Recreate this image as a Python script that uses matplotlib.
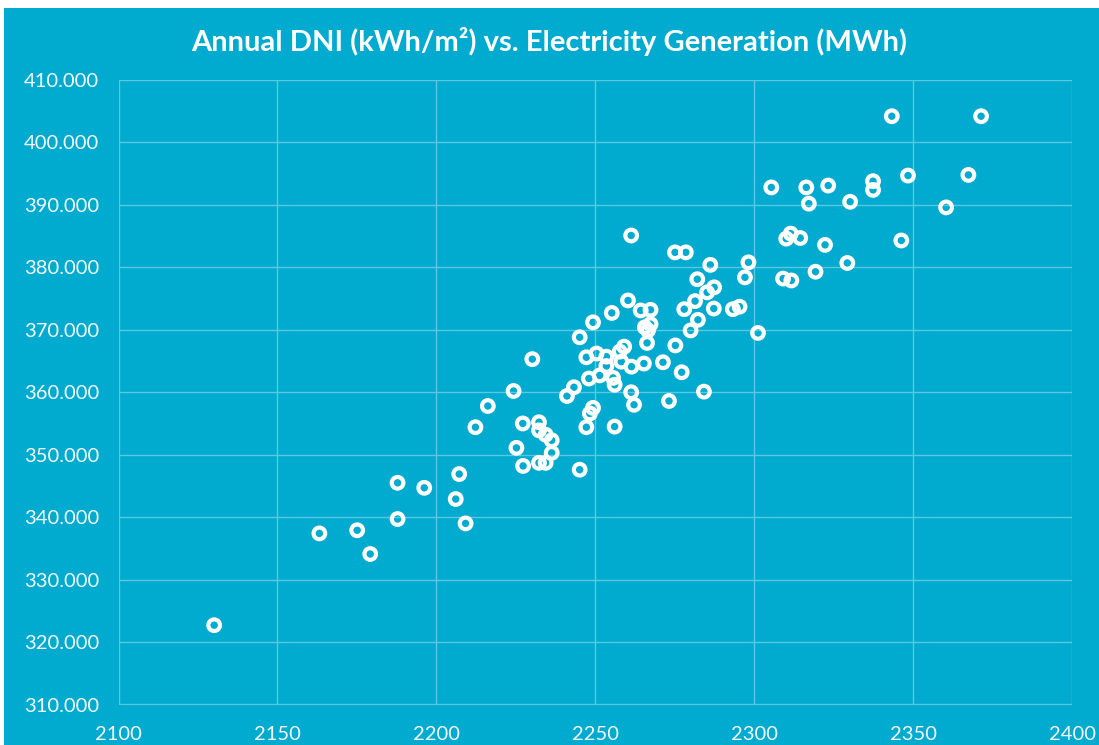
import matplotlib.pyplot as plt
from matplotlib.patches import Rectangle

# Annual DNI (kWh/m2) vs electricity generation (MWh)
dni = [2130.1, 2163.2, 2175.1, 2179.2, 2187.8, 2187.8, 2196.2, 2206.1, 2207.2, 2209.2,
       2212.3, 2216.2, 2224.3, 2225.2, 2227.2, 2227.3, 2230.2, 2232.3, 2232.3, 2232.3,
       2234.4, 2234.4, 2236.3, 2236.3, 2241.1, 2243.3, 2245.1, 2245.1, 2247.2, 2247.2,
       2248.0, 2248.3, 2249.3, 2249.3, 2250.4, 2251.4, 2253.5, 2253.5, 2255.2, 2255.6,
       2256.1, 2256.1, 2257.7, 2258.2, 2259.1, 2260.3, 2261.3, 2261.3, 2261.4, 2262.2,
       2264.3, 2265.3, 2265.6, 2266.3, 2266.6, 2267.4, 2267.4, 2271.3, 2273.2, 2275.1,
       2275.2, 2277.2, 2278.0, 2278.5, 2280.0, 2281.4, 2282.1, 2282.3, 2284.2, 2285.2,
       2286.2, 2287.3, 2287.4, 2293.3, 2295.4, 2297.1, 2298.2, 2301.2, 2305.4, 2309.1,
       2310.1, 2311.5, 2311.7, 2314.5, 2316.4, 2317.2, 2319.3, 2322.3, 2323.3, 2329.3,
       2330.2, 2337.4, 2337.4, 2343.3, 2346.3, 2348.4, 2360.4, 2367.4, 2371.4]
generation = [322.7, 337.4, 337.9, 334.1, 339.7, 345.5, 344.7, 342.9, 346.9, 339.0,
              354.4, 357.8, 360.2, 351.1, 355.0, 348.2, 365.3, 355.2, 353.9, 348.7,
              353.2, 348.7, 352.3, 350.3, 359.4, 360.8, 368.8, 347.6, 365.6, 354.4,
              362.2, 356.6, 371.2, 357.5, 366.2, 362.7, 365.7, 364.2, 372.7, 362.3,
              361.2, 354.5, 366.5, 364.9, 367.3, 374.7, 385.1, 360.0, 364.1, 358.0,
              373.1, 364.6, 370.4, 367.9, 369.9, 373.2, 370.9, 364.8, 358.6, 382.4,
              367.5, 363.2, 373.3, 382.4, 369.9, 374.6, 378.1, 371.6, 360.1, 376.0,
              380.4, 373.4, 376.8, 373.3, 373.7, 378.4, 380.8, 369.5, 392.8, 378.2,
              384.6, 385.4, 377.9, 384.7, 392.8, 390.2, 379.3, 383.6, 393.1, 380.7,
              390.5, 393.8, 392.4, 404.2, 384.3, 394.7, 389.6, 394.8, 404.2]

x_ticks = [2100, 2150, 2200, 2250, 2300, 2350, 2400]
y_ticks = [310, 320, 330, 340, 350, 360, 370, 380, 390, 400, 410]

bg = '#01AACF'
grid_col = '#5BC8E2'
plt.rcParams['font.family'] = ['Lato', 'DejaVu Sans']

fig = plt.figure(figsize=(10.99, 7.45), dpi=100, facecolor='white')
fig.patches.append(Rectangle((4 / 1099, 0), 1, 1 - 8 / 745, transform=fig.transFigure,
                             facecolor=bg, edgecolor='none', zorder=-10))

ax = fig.add_axes([118.5 / 1099, 1 - 704.5 / 745, (1072 - 118.5) / 1099, (704.5 - 80) / 745])
ax.set_facecolor(bg)

ax.scatter(dni, generation, s=70, facecolors='none', edgecolors='white',
           linewidths=3.0, zorder=3, clip_on=False)

ax.set_xlim(2100, 2400)
ax.set_ylim(310, 410)
ax.set_xticks(x_ticks)
ax.set_yticks(y_ticks)
ax.set_yticklabels([f'{v:.3f}' for v in y_ticks])
ax.grid(True, color=grid_col, linewidth=1.0)
ax.set_axisbelow(True)
for s in ax.spines.values():
    s.set_visible(False)
ax.tick_params(length=0, colors='#F2FAFC', labelsize=14.5)
ax.tick_params(axis='x', pad=15.5)
ax.tick_params(axis='y', pad=14)

fig.text(0.5, 1 - 42 / 745, 'Annual DNI (kWh/m²) vs. Electricity Generation (MWh)',
         ha='center', va='center', color='white', fontsize=21, fontweight='bold')

fig.savefig('out.png', dpi=100, facecolor=fig.get_facecolor())
